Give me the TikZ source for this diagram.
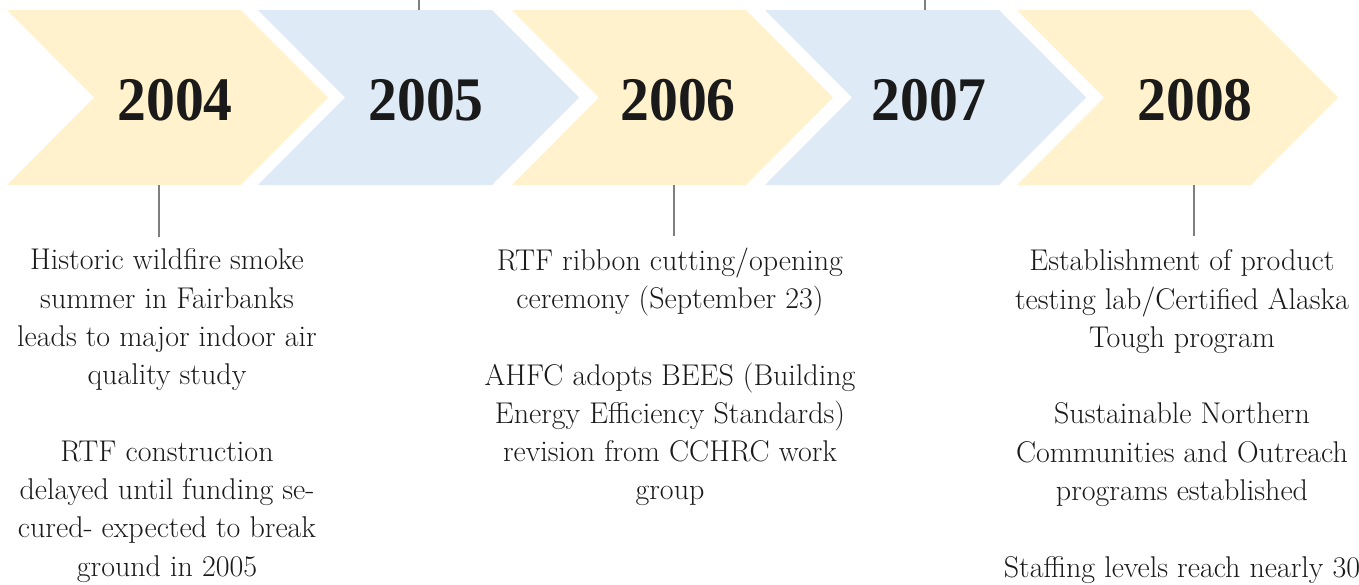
\documentclass[tikz,border=0pt]{standalone}
\usepackage{fontspec}
\newfontfamily\yearfont[FakeStretch=0.93]{Liberation Serif}
\definecolor{chevY}{HTML}{FFF2CC}
\definecolor{chevB}{HTML}{DEEAF6}
\definecolor{linegray}{HTML}{7F7F7F}
\definecolor{ink}{HTML}{1A1A1A}
\begin{document}
\begin{tikzpicture}[x=1pt,y=-1pt,
  year/.style={font=\yearfont\bfseries\fontsize{62}{62}\selectfont, text=ink, inner sep=0pt, anchor=base},
  event/.style={font=\fontsize{30}{38.3}\selectfont, text=ink, align=center, inner sep=0pt, anchor=north},
  tick/.style={draw=linegray, line width=2pt}]
\useasboundingbox (0,0) rectangle (1359,584);
% chevrons
\foreach \L/\c in {7/chevY, 258/chevB, 512/chevY, 765/chevB, 1017/chevY}
  \fill[\c] (\L,10) -- ++(234,0) -- ++(87,87.5) -- ++(-87,87.5) -- ++(-234,0) -- ++(87,-87.5) -- cycle;
% year labels
\node[year] (y2004) at (175,120) {2004};
\node[year] (y2005) at (426,120) {2005};
\node[year] (y2006) at (678,120) {2006};
\node[year] (y2007) at (929,120) {2007};
\node[year] (y2008) at (1195,120) {2008};
% connector anchors on the chevrons
\coordinate (b2004) at (159,185);
\coordinate (b2006) at (674,185);
\coordinate (b2008) at (1194,185);
\coordinate (a2005) at (419,10);
\coordinate (a2007) at (925,10);
\coordinate (u2005) at (419,0);
\coordinate (u2007) at (925,0);
\coordinate (e2004) at (159,237);
\coordinate (e2006) at (674,236);
\coordinate (e2008) at (1194,236);
% event texts
\node[event] (t2004) at (167,248.5) {Historic wildfire smoke\\summer in Fairbanks\\leads to major indoor air\\quality study\\[38.3pt]RTF construction\\delayed until funding se-\\cured- expected to break\\ground in 2005};
\node[event] (t2006) at (670,247.5) {RTF ribbon cutting/opening\\ceremony (September 23)\\[38.3pt]AHFC adopts BEES (Building\\Energy Efficiency Standards)\\revision from CCHRC work\\group};
\node[event] (t2008) at (1182,249.5) {Establishment of product\\testing lab/Certified Alaska\\Tough program\\[38.3pt]Sustainable Northern\\Communities and Outreach\\programs established\\[38.3pt]Staffing levels reach nearly 30};
% ticks
\draw[tick] (b2004) -- (e2004);
\draw[tick] (b2006) -- (e2006);
\draw[tick] (b2008) -- (e2008);
\draw[tick] (u2005) -- (a2005);
\draw[tick] (u2007) -- (a2007);
\end{tikzpicture}
\end{document}
